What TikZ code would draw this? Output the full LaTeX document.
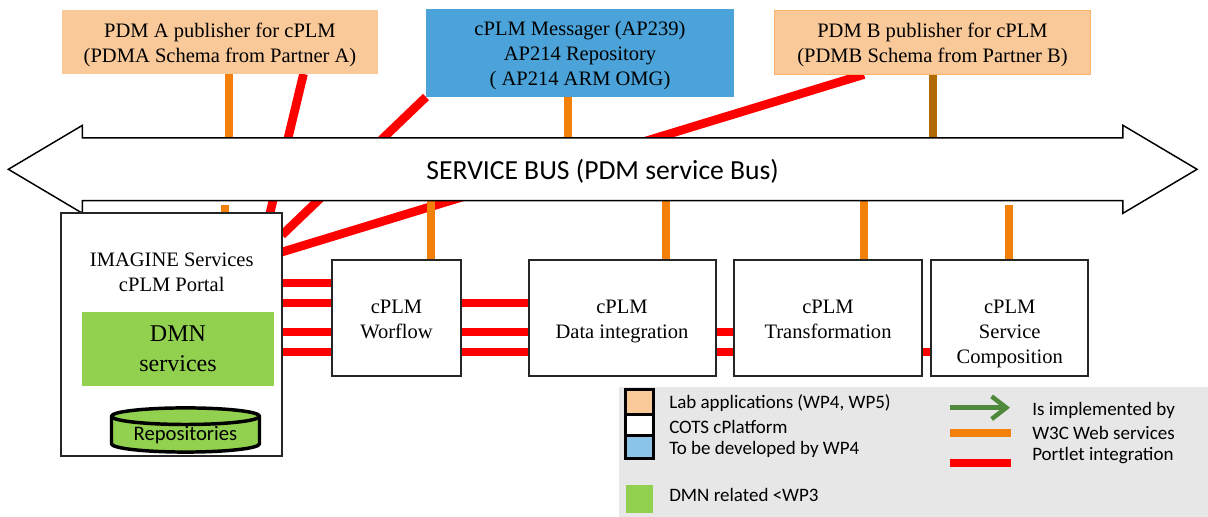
\documentclass[tikz,border=0pt]{standalone}
\usepackage{fontspec}
\setmainfont{Liberation Serif}
\newfontfamily\busfont{Carlito}
\usetikzlibrary{shapes.arrows,shapes.geometric,backgrounds,arrows.meta}
\definecolor{peach}{HTML}{FAC99A}
\definecolor{peachline}{HTML}{F9B36B}
\definecolor{msgblue}{HTML}{4BA3D9}
\definecolor{lightblue}{HTML}{8CC4E8}
\definecolor{dmngreen}{HTML}{92D050}
\definecolor{wsorange}{HTML}{F2800A}
\definecolor{wsbrown}{HTML}{B06A00}
\definecolor{arrowgreen}{HTML}{4F8A3C}
\definecolor{legendgray}{HTML}{E7E7E7}
\newcommand{\boxdepth}{\rule[-4pt]{0pt}{0pt}}
\newcommand{\firstline}{\rule{0pt}{15.4pt}}
\begin{document}
\begin{tikzpicture}[x=0.75pt,y=-0.75pt]
        % Styles
        \tikzstyle{box}=[inner sep=0pt,outer sep=0pt,align=center,font=\fontsize{15.4}{18.75}\selectfont,
            execute at end node=\boxdepth]
        \tikzstyle{component}=[box,draw=black!85,line width=1.5pt,fill=white]
        \tikzstyle{webservice}=[line width=6pt,wsorange]
        \tikzstyle{portlet}=[line width=6pt,red]
        \tikzstyle{swatch}=[inner sep=0pt,outer sep=0pt,draw=black,line width=2.25pt,minimum width=21pt]
        \tikzstyle{legend text}=[inner sep=0pt,anchor=west,font=\busfont\fontsize{14.25}{16}\selectfont]
        \useasboundingbox (0,0) rectangle (1208,517);
        %publishers
        \node[box,fill=peach,minimum width=237pt,minimum height=48pt] (pdma) at (220,42) {\firstline PDM A publisher for cPLM\\(PDMA Schema from Partner A)};
        \node[box,fill=msgblue,minimum width=231pt,minimum height=66pt] (messager) at (580,53) {\firstline cPLM Messager (AP239)\\AP214 Repository\\( AP214 ARM OMG)};
        \node[box,fill=peach,draw=peachline,minimum width=237pt,minimum height=48pt] (pdmb) at (932.5,42.5) {\firstline PDM B publisher for cPLM\\(PDMB Schema from Partner B)};
        %bus
        \node[double arrow,draw=black,line width=1.1pt,fill=white,inner sep=0pt,outer sep=0pt,
            double arrow head extend=9.45pt,double arrow tip angle=61.4,double arrow head indent=0pt,text height=31pt,text depth=15pt,
            minimum width=65pt,minimum height=891.5pt,font=\busfont\fontsize{20.7}{24}\selectfont] (bus) at (602.7,169.3) {SERVICE BUS (PDM service Bus)};
        %portal
        \node[component,minimum width=165.4pt,minimum height=182.25pt] (portal) at (171.75,334.5) {};
        \node[box] (portal text) at (171.75,271.5) {\firstline IMAGINE Services\\cPLM Portal};
        \node[box,fill=dmngreen,minimum width=143.5pt,minimum height=55.3pt,font=\fontsize{18}{23}\selectfont] (dmn) at (178,349) {\firstline DMN\\services};
        \node[cylinder,shape border rotate=90,aspect=0.16,draw=black,line width=2.6pt,fill=dmngreen,inner sep=0pt,outer sep=0pt,
            minimum width=111pt,minimum height=31pt,font=\busfont\fontsize{15.5}{18}\selectfont] (repositories) at (185.5,435) {Repositories};
        %components
        \node[component,minimum width=96.75pt,minimum height=87pt] (worflow) at (396.5,318) {\firstline cPLM\\Worflow};
        \node[component,minimum width=140.25pt,minimum height=87pt] (data) at (622,318) {\firstline cPLM\\Data integration};
        \node[component,minimum width=141pt,minimum height=87pt] (transformation) at (828,318) {\firstline cPLM\\Transformation};
        \node[component,minimum width=118pt,minimum height=87pt] (composition) at (1009.75,318) {};
        \node[box] (composition text) at (1009.75,331) {\firstline cPLM\\Service\\Composition};
        %free ends of the short stubs
        \coordinate (portal stub) at (224.5,205);
        \coordinate (composition stub) at (1009,205);
        %connectors
        \begin{scope}[on background layer]
            \draw[portlet,line width=6.5pt] (pdma.south -| 303.5,0) -- (portal.north -| 270,0);
            \draw[portlet,line width=6.5pt] (messager.south west) -- (portal.east |- 0,235);
            \draw[portlet,line width=6.5pt] (pdmb.south -| 864,0) -- (portal.east |- 0,252);
            \draw[webservice] (pdma.south -| 228.5,0) -- (bus.center -| 228.5,0);
            \draw[webservice] (messager.south -| 568,0) -- (bus.center -| 568,0);
            \draw[webservice,wsbrown] (pdmb.south -| 932.7,0) -- (bus.center -| 932.7,0);
            \foreach \name/\x in {worflow/431,data/666,transformation/864}
            \draw[webservice] (\name.north -| \x,0) -- (bus.center -| \x,0);
            \draw[webservice] (portal.north -| portal stub) -- (portal stub);
            \draw[webservice] (composition.north -| composition stub) -- (composition stub);
            \foreach \y in {283,303,332,352}
            \draw[portlet] (portal.east |- 0,\y) -- (worflow.west |- 0,\y);
            \foreach \y in {303,332,352}
            \draw[portlet] (worflow.east |- 0,\y) -- (data.west |- 0,\y);
            \foreach \y in {332,352}
            \draw[portlet] (data.east |- 0,\y) -- (transformation.west |- 0,\y);
            \draw[portlet] (transformation.east |- 0,352) -- (composition.west |- 0,352);
        \end{scope}
        %legend
        \fill[legendgray] (619,387) rectangle (1208,517);
        \node[swatch,fill=peach,minimum height=18.75pt] (lab swatch) at (639.5,401.5) {};
        \node[swatch,fill=white,minimum height=15.75pt] (cots swatch) at (639.5,424.5) {};
        \node[swatch,fill=lightblue,minimum height=17.25pt] (wp4 swatch) at (639.5,446.5) {};
        \node[inner sep=0pt,outer sep=0pt,fill=dmngreen,minimum width=20pt,minimum height=20.75pt] (dmn swatch) at (639.75,499) {};
        \node[legend text] (lab text) at (669,403) {Lab applications (WP4, WP5)};
        \node[legend text] (cots text) at (669,426.5) {COTS cPlatform};
        \node[legend text] (wp4 text) at (669,449) {To be developed by WP4};
        \node[legend text] (dmn text) at (669,494.5) {DMN related <WP3};
        \node[legend text] (implemented text) at (1032,410) {Is implemented by};
        \node[legend text] (ws text) at (1032,433) {W3C Web services};
        \node[legend text] (portlet text) at (1032,455.5) {Portlet integration};
        \coordinate (arrow start) at (950,407.7);
        \coordinate (ws start) at (950,433.3);
        \coordinate (portlet start) at (950,463.3);
        \draw[arrowgreen,line width=3.4pt,-{Straight Barb[length=11pt,width=17pt]}] (arrow start) -- ++(60,0);
        \draw[webservice] (ws start) -- ++(61,0);
        \draw[portlet] (portlet start) -- ++(61,0);
\end{tikzpicture}
\end{document}
